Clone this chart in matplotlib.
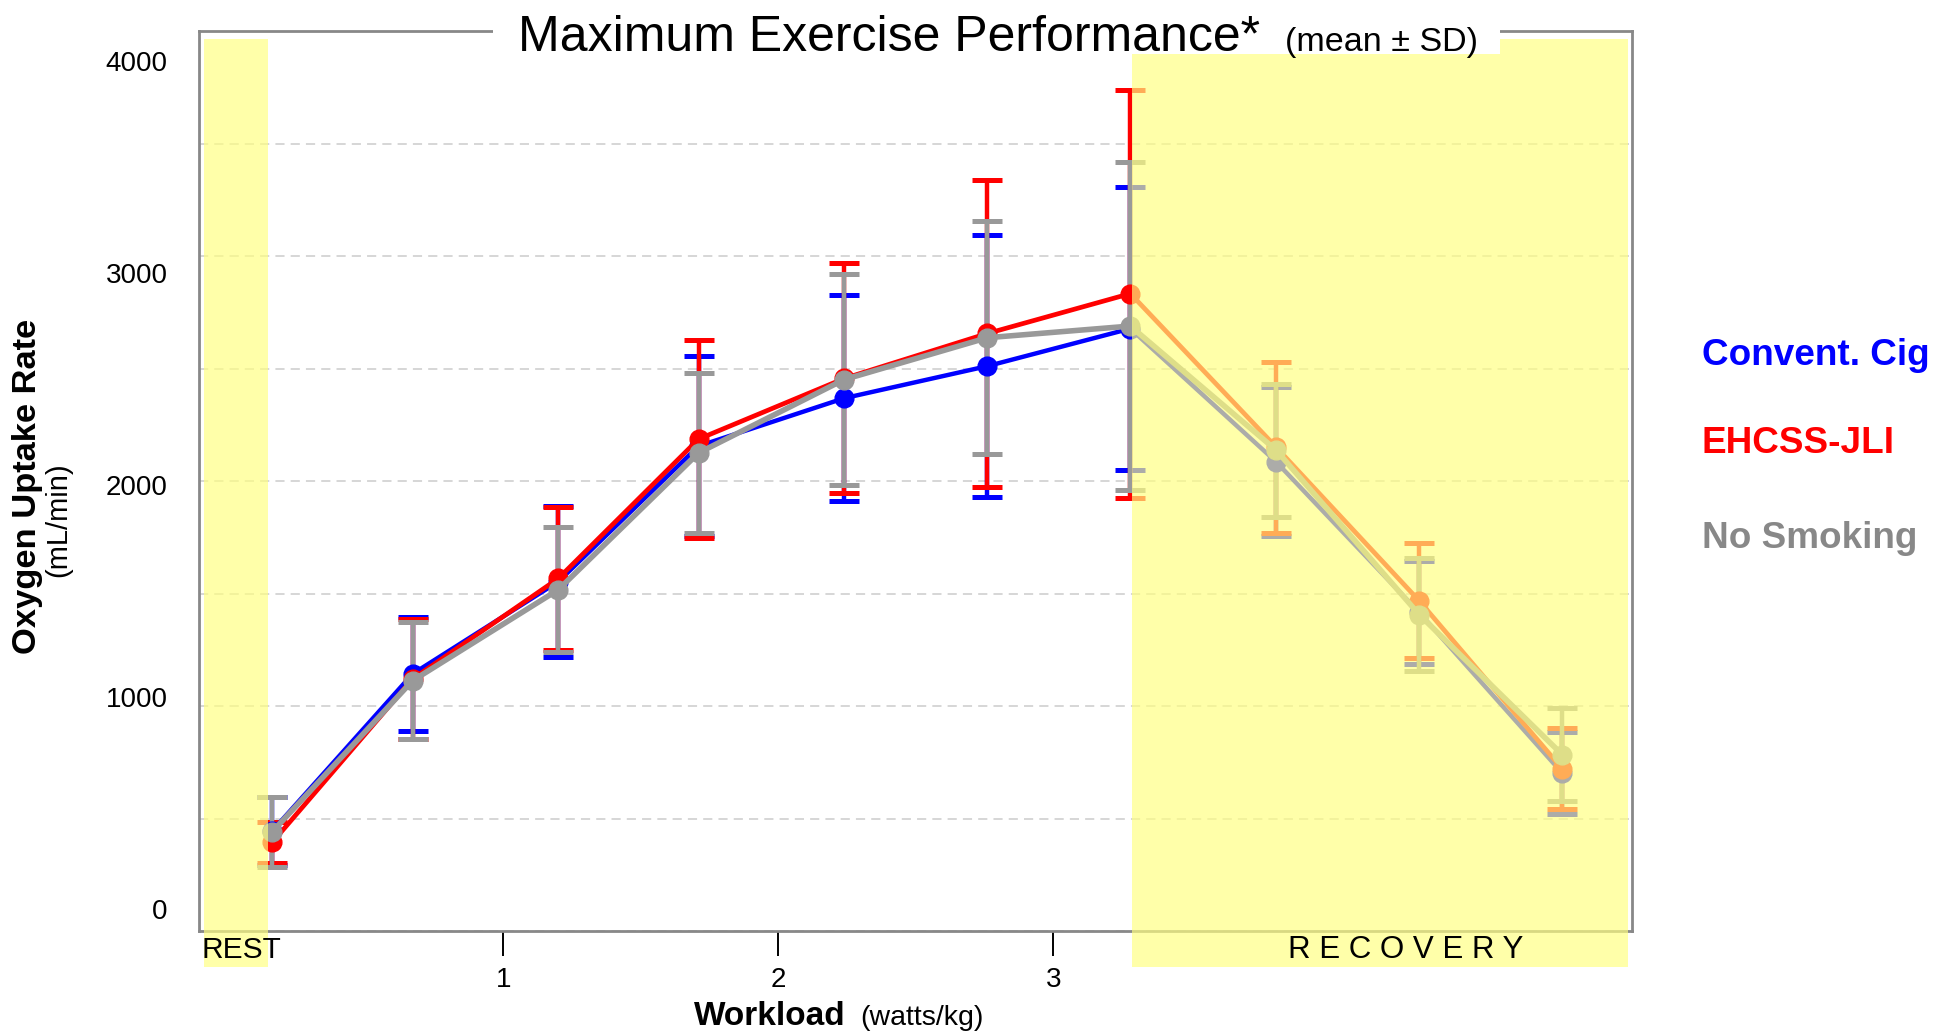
import matplotlib
matplotlib.use("Agg")
import matplotlib.pyplot as plt
from matplotlib.patches import Rectangle
from matplotlib.ticker import LinearLocator, FixedLocator

plt.rcParams['font.family'] = ['Liberation Sans', 'DejaVu Sans']

# stage positions on the workload axis (rest, 6 exercise stages, 3 recovery stages)
workload = [0.16, 0.67, 1.20, 1.71, 2.24, 2.76, 3.28, 3.81, 4.33, 4.85]

# oxygen uptake, mL/min (mean and SD)
cig_mean = [370, 1110, 1545, 2184, 2410, 2561, 2738, 2110, 1400, 643]
cig_sd = [160, 270, 355, 423, 485, 617, 667, 352, 244, 192]
ehcss_mean = [316, 1086, 1560, 2217, 2503, 2715, 2903, 2179, 1455, 663]
ehcss_sd = [98, 283, 337, 466, 542, 723, 962, 403, 270, 192]
nosmoke_mean = [366, 1078, 1507, 2152, 2498, 2695, 2750, 2165, 1390, 730]
nosmoke_sd = [165, 275, 295, 379, 498, 548, 775, 314, 268, 218]

series_names = ["Convent. Cig", "EHCSS-JLI", "No Smoking"]
y_ticks = [0, 1000, 2000, 3000, 4000]
x_ticks = [1, 2, 3]

W, H = 1934, 1032


def fx(px):
    return px / W


def fy(py):
    return 1 - py / H


fig = plt.figure(figsize=(W / 100, H / 100), dpi=100)
ax = fig.add_axes([fx(199.4), fy(931), (1632 - 199.4) / W, (931 - 31) / H])

styles = [
    (cig_mean, cig_sd, '#0000FF', 3.2),
    (ehcss_mean, ehcss_sd, '#FF0000', 3.4),
    (nosmoke_mean, nosmoke_sd, '#999999', 4.0),
]
for mean, sd, col, lw in styles:
    ax.errorbar(workload, mean, yerr=sd, color=col, lw=lw, marker='o', ms=13.5,
                elinewidth=3.2, capsize=11, capthick=3.6, zorder=3)

ax.set_xlim(-0.105, 5.104)
ax.set_ylim(-102, 4141)

# rest and recovery shading, reaching down under the axis labels
band_kw = dict(ymin=-0.0397, ymax=0.9908, facecolor='#FFFF80', alpha=0.68,
               edgecolor='none', zorder=5, clip_on=False)
ax.axvspan(-0.0887, 0.1444, **band_kw)
ax.axvspan(3.286, 5.089, **band_kw)

ax.text(-0.098, -0.021, "REST", transform=ax.get_xaxis_transform(),
        fontsize=21.5, ha='left', va='center', zorder=6, clip_on=False)
ax.text(4.28, -0.021, "R E C O V E R Y", transform=ax.get_xaxis_transform(),
        fontsize=22.5, ha='center', va='center', zorder=6, clip_on=False)

for s in ax.spines.values():
    s.set_color('#888888')
    s.set_linewidth(2.0)

ax.yaxis.set_major_locator(FixedLocator(y_ticks))
ax.yaxis.set_minor_locator(LinearLocator(9))
ax.grid(which='minor', axis='y', color='#CCCCCC', lw=1.1, ls=(0, (6, 4)))
ax.tick_params(axis='y', which='both', length=0, labelsize=20, pad=23)

ax.xaxis.set_major_locator(FixedLocator(x_ticks))
ax.tick_params(axis='x', which='major', length=18, width=1.4, color='black',
               direction='out', labelsize=20, pad=8)

# title strip sits over the top spine
fig.patches.append(Rectangle((fx(493), fy(54)), (1500 - 493) / W, 54 / H,
                             transform=fig.transFigure, facecolor='white',
                             edgecolor='none', zorder=1))
fig.text(fx(518), fy(50.7), "Maximum Exercise Performance*", fontsize=36,
         ha='left', va='baseline', zorder=2)
fig.text(fx(1285), fy(50.7), "(mean \u00b1 SD)", fontsize=24.5,
         ha='left', va='baseline', zorder=2)

fig.text(fx(28), fy(486), "Oxygen Uptake Rate", fontsize=24.8, fontweight='bold',
         rotation=90, ha='center', va='center')
fig.text(fx(58), fy(520), "(mL/min)", fontsize=21, rotation=90,
         ha='center', va='center')

fig.text(fx(694), fy(1025), "Workload", fontsize=24, fontweight='bold',
         ha='left', va='baseline')
fig.text(fx(860), fy(1025), "(watts/kg)", fontsize=20.5, ha='left', va='baseline')

legend_y = [365, 452.7, 548.5]
legend_col = ['#0000FF', '#FF0000', '#888888']
for name, py, col in zip(series_names, legend_y, legend_col):
    fig.text(fx(1702), fy(py), name, fontsize=26.6, fontweight='bold',
             color=col, ha='left', va='baseline')

fig.savefig("out.png", dpi=100)
